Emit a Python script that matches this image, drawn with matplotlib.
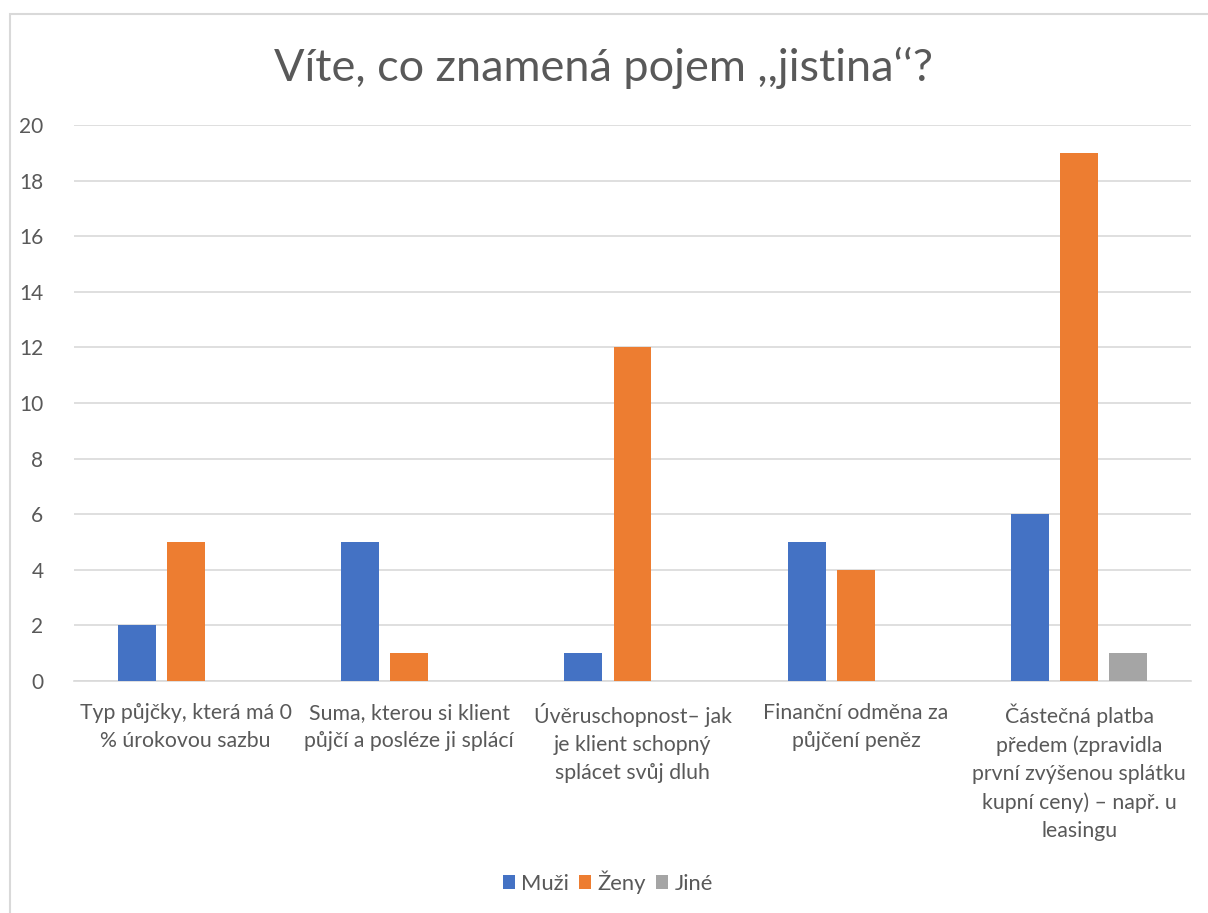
import matplotlib
matplotlib.use("Agg")
import matplotlib.pyplot as plt
from matplotlib.patches import Rectangle
import numpy as np

categories = [
    "Typ půjčky, která má 0\n% úrokovou sazbu",
    "Suma, kterou si klient\npůjčí a posléze ji splácí",
    "Úvěruschopnost– jak\nje klient schopný\nsplácet svůj dluh",
    "Finanční odměna za\npůjčení peněz",
    "Částečná platba\npředem (zpravidla\nprvní zvýšenou splátku\nkupní ceny) – např. u\nleasingu",
]
muzi = [2, 5, 1, 5, 6]
zeny = [5, 1, 12, 4, 19]
jine = [0, 0, 0, 0, 1]
series_names = ["Muži", "Ženy", "Jiné"]
colors = ["#4472C4", "#ED7D31", "#A5A5A5"]
title = "Víte, co znamená pojem ,,jistina‘‘?"

plt.rcParams['font.family'] = ['Lato', 'DejaVu Sans']
text_color = "#595959"

fig = plt.figure(figsize=(12.08, 9.13), dpi=100)
fig.patch.set_facecolor("white")
# chart border
fig.patches.append(Rectangle((10/1208, -0.1), 1.2, (1 - 14/913) + 0.1,
                             transform=fig.transFigure, fill=False,
                             edgecolor="#D9D9D9", linewidth=1.5))

ax = fig.add_axes([74/1208, 1 - 681/913, (1191 - 74)/1208, (681 - 125)/913])
x = np.arange(len(categories))
w = 0.17
off = 0.2195
for i, (vals, name, c) in enumerate(zip([muzi, zeny, jine], series_names, colors)):
    ax.bar(x + (i - 1) * off, vals, width=w, color=c, label=name, linewidth=0, zorder=3)

ax.set_xlim(-0.5, len(categories) - 0.5)
ax.set_ylim(0, 20)
ax.set_yticks(range(0, 21, 2))
ax.yaxis.grid(True, color="#D9D9D9", linewidth=1.2, zorder=0)
ax.set_axisbelow(True)
for s in ["top", "right", "left"]:
    ax.spines[s].set_visible(False)
ax.spines["bottom"].set_color("#D9D9D9")
ax.spines["bottom"].set_linewidth(1.2)
ax.tick_params(axis="both", length=0, colors=text_color, labelsize=15)
ax.tick_params(axis="y", pad=22)
ax.tick_params(axis="x", pad=16)
ax.set_xticks(x)
ax.set_xticklabels(categories, fontsize=15.3, color=text_color, linespacing=1.5)

fig.text(0.5, 1 - 68/913, title, ha="center", va="center", fontsize=32.5, color=text_color)

leg = fig.legend(loc="center", bbox_to_anchor=(608/1208, 1 - 882/913), ncol=3, frameon=False,
                 fontsize=15.8, handlelength=0.55, handleheight=0.55, handletextpad=0.3,
                 columnspacing=0.45, labelcolor=text_color)

fig.savefig("out.png", dpi=100, facecolor="white")
